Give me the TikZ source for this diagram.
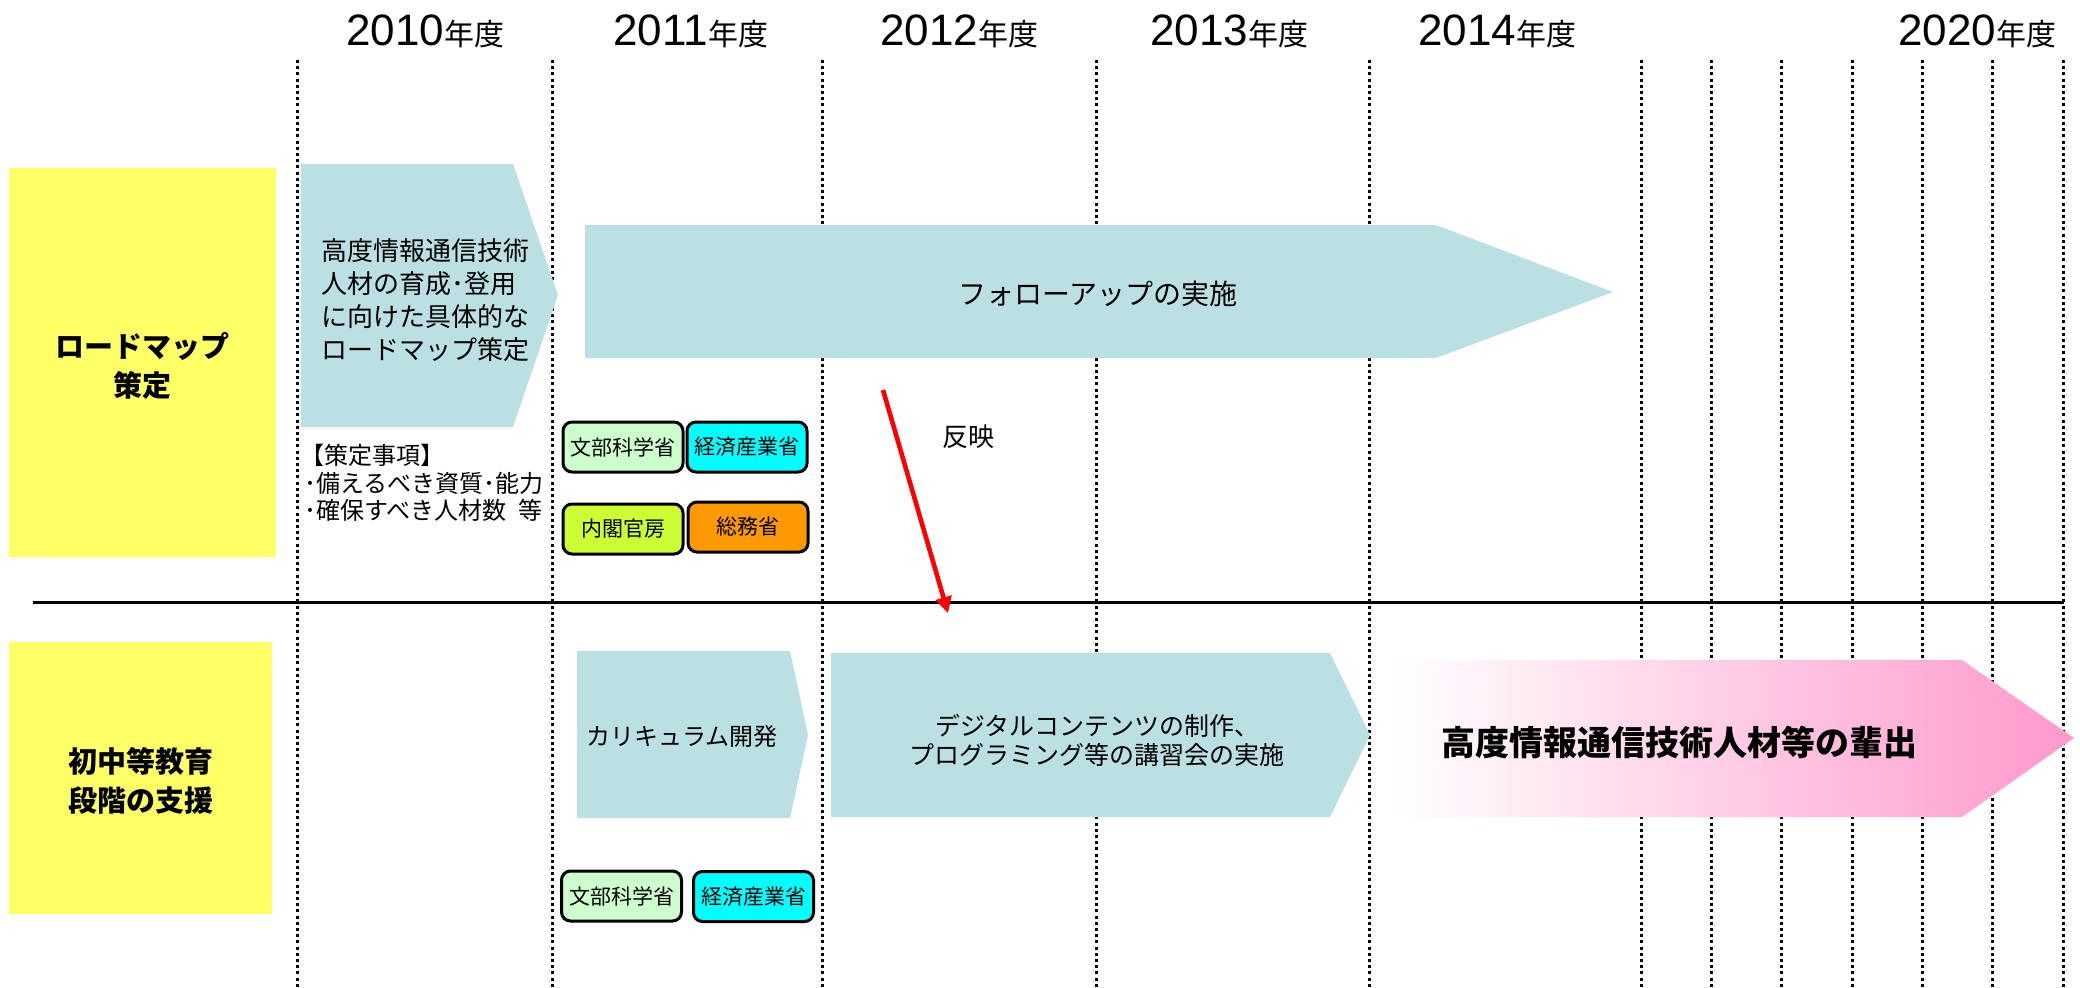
\documentclass[tikz,border=0pt]{standalone}
\usepackage{fontspec}
\setmainfont{Noto Sans CJK JP}
\newfontfamily\latinfont{Liberation Sans}
\usetikzlibrary{arrows.meta}
\definecolor{arrowblue}{HTML}{BBE0E3}
\definecolor{ylw}{HTML}{FFFF66}
\definecolor{mext}{HTML}{CCFFCC}
\definecolor{meti}{HTML}{00FFFF}
\definecolor{cao}{HTML}{CCFF33}
\definecolor{mic}{HTML}{FF9900}
\definecolor{pinkend}{HTML}{FF99CC}
\tikzset{
  gridline/.style={line width=1.5pt, dash pattern=on 1.5pt off 1.6pt},
  yearlbl/.style={anchor=base west, inner sep=0pt},
  agency/.style={draw=black, line width=1.5pt, rounded corners=4.5pt,
    minimum width=60pt, minimum height=25pt, inner sep=0pt,
    font=\fontsize{10.5}{12}\selectfont},
  rowlabel/.style={align=center, inner sep=0pt, font=\bfseries\fontsize{14.5}{19.5}\selectfont},
  plain/.style={inner sep=0pt},
}
\newcommand{\yr}[1]{{\latinfont\fontsize{22}{22}\selectfont #1}{\fontsize{15}{15}\selectfont 年度}}
\begin{document}
\begin{tikzpicture}[x=0.5pt,y=-0.5pt]
\useasboundingbox (0,0) rectangle (2080,987);
% year labels
\node[yearlbl] (y2010) at (346,45) {\yr{2010}};
\node[yearlbl] (y2011) at (613,45) {\yr{2011}};
\node[yearlbl] (y2012) at (880,45) {\yr{2012}};
\node[yearlbl] (y2013) at (1150,45) {\yr{2013}};
\node[yearlbl] (y2014) at (1418,45) {\yr{2014}};
\node[yearlbl] (y2020) at (1898,45) {\yr{2020}};
% dotted year lines
\foreach \x in {297,552,822,1096,1369,1641,1711.3,1781.6,1852,1922.3,1992.6,2063}
  \draw[gridline] (\x,60) -- (\x,987);
% separator
\draw[line width=1.5pt] (33,602) -- (2064,602);
% row labels
\fill[ylw] (9,168) rectangle (276,557);
\node[rowlabel] (row1) at (142,366) {ロードマップ\\策定};
\fill[ylw] (9,642) rectangle (272,914);
\node[rowlabel] (row2) at (141,781) {初中等教育\\段階の支援};
% roadmap arrow
\fill[arrowblue] (301,164) -- (513,164) -- (558,295) -- (513,427) -- (301,427) -- cycle;
\node[plain, anchor=west, align=left, font=\fontsize{13}{16.5}\selectfont] (rm) at (321,300)
  {高度情報通信技術\\人材の育成･登用\\に向けた具体的な\\ロードマップ策定};
\node[plain, anchor=west, align=left, font=\fontsize{12}{13.8}\selectfont] (items) at (300,483)
  {【策定事項】\\\,･備えるべき資質･能力\\\,･確保すべき人材数\hspace{6pt}等};
% follow-up arrow
\fill[arrowblue] (585,225) -- (1436,225) -- (1613,292) -- (1436,358) -- (585,358) -- cycle;
\node[plain, font=\fontsize{14}{16}\selectfont] (fu) at (1098,294) {フォローアップの実施};
% agencies top
\node[agency, fill=mext] (mext1) at (623,447) {文部科学省};
\node[agency, fill=meti] (meti1) at (747,447) {経済産業省};
\node[agency, fill=cao] (cao1) at (623,529) {内閣官房};
\node[agency, fill=mic] (mic1) at (748,527) {総務省};
% curriculum arrow
\fill[arrowblue] (577,651) -- (790,651) -- (808,735) -- (790,818) -- (577,818) -- cycle;
\node[plain, font=\fontsize{12}{14}\selectfont] (cur) at (682,736) {カリキュラム開発};
% digital contents arrow
\fill[arrowblue] (831,653) -- (1330,653) -- (1370,735) -- (1330,817) -- (831,817) -- cycle;
\node[plain, align=center, font=\fontsize{12.5}{14.5}\selectfont] (dc) at (1097,740)
  {デジタルコンテンツの制作、\\プログラミング等の講習会の実施};
% agencies bottom
\node[agency, fill=mext] (mext2) at (621.5,896) {文部科学省};
\node[agency, fill=meti] (meti2) at (753.5,896.5) {経済産業省};
% pink outcome arrow
\shade[left color=white, right color=pinkend] (1390,660) -- (1962,660) -- (2074,738) -- (1962,817) -- (1390,817) -- cycle;
\node[plain, anchor=west, font=\bfseries\fontsize{17}{19}\selectfont] (out) at (1441,742) {高度情報通信技術人材等の輩出};
% reflection arrow
\coordinate (rs) at (883,390);
\coordinate (re) at (948,613);
\draw[red, line width=2.3pt, -{Triangle[length=8pt,width=8pt]}] (rs) -- (re);
\node[plain, font=\fontsize{13}{15}\selectfont] (refl) at (968,437) {反映};
\end{tikzpicture}
\end{document}
